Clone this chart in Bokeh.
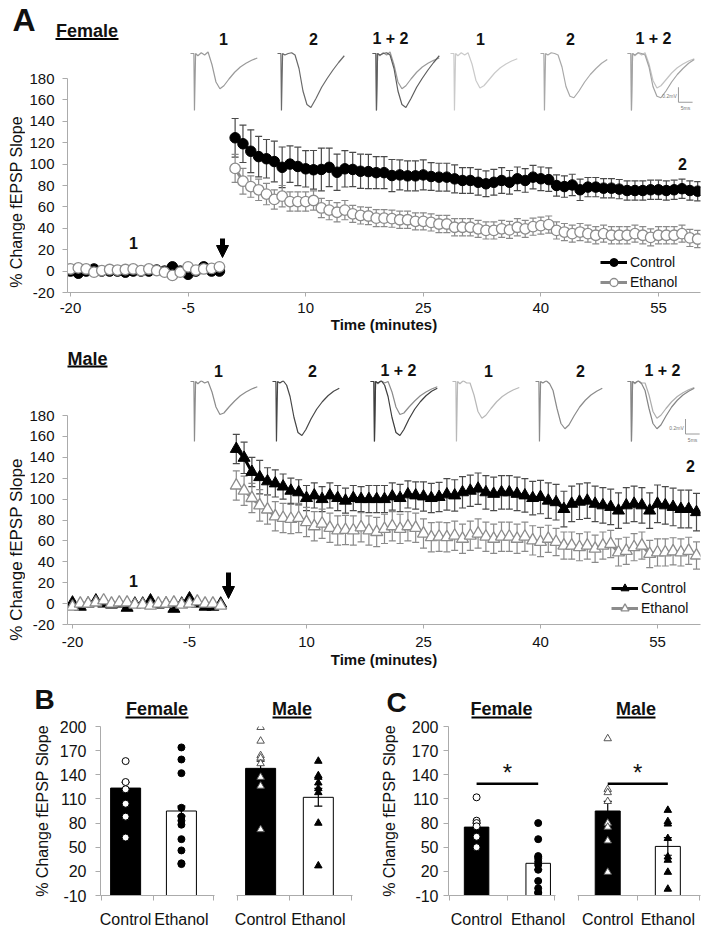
import math
from bokeh.plotting import figure
from bokeh.layouts import column, row
from bokeh.models import (Range1d, FixedTicker, Legend, LegendItem, Arrow,
                          NormalHead)
from bokeh.core.properties import value
from bokeh.embed import file_html
from bokeh.resources import INLINE

FONT = "Liberation Sans"
AXIS_GRAY = "#ababab"
TXT = "#111111"

# ---------------------------------------------------------------- data (A)
time_ticks = [-20, -5, 10, 25, 40, 55]
slope_ticks_a = [-20, 0, 20, 40, 60, 80, 100, 120, 140, 160, 180]
base_t = list(range(-20, 0))     # baseline minutes
post_t = list(range(1, 61))      # post-HFS minutes

f_ctl_base = [0, -2, 0, 2, 0, 0, 0, -1, 0, 0, 0, 1, 0, 4, 0, -3, 0, 4, 0, 0]
f_eth_base = [2, 3, 2, -1, 0.5, 1.5, 1, 1.5, 2, 0.5, 2, 0.5, -1, -4, -1, 4, 1, 2, 2.5, 4]
f_ctl_post = [124.6, 119, 112, 107, 105, 102.4, 97, 100, 97.8, 95.6,
              94.7, 95, 97, 92.4, 95.6, 95, 93.3, 93, 92, 92,
              89.3, 89.9, 89, 89, 89.9, 88.4, 87.8, 87.8, 86.2, 84.7,
              84.7, 83, 81.6, 83, 84.7, 83, 86.3, 84.7, 87.8, 86.3,
              85.5, 80, 79, 80.5, 76, 78.5, 78.5, 77.5, 77.5, 76.6,
              75.3, 75.3, 75.3, 76, 76, 75.3, 76, 77, 75.3, 74.7]
f_ctl_sem = [18, 17.5, 20, 19, 18, 19, 19, 17, 18, 17,
             18, 20, 18, 17, 17, 16, 16, 16, 15, 15,
             15, 14, 14, 14, 14, 13, 13, 13, 13, 12,
             12, 12, 12, 12, 12, 11, 11, 11, 11, 11,
             11, 10, 10, 10, 10, 9, 9, 9, 9, 9,
             9, 9, 9, 9, 9, 9, 9, 9, 9, 9]
f_eth_post = [96, 84, 79, 76, 72, 67, 70, 65, 65, 65,
              66, 59, 57, 55, 57, 53.5, 52, 51.5, 49.5, 49.5,
              49, 48, 48, 46.5, 46.5, 45.5, 44, 44, 41, 41,
              41, 39.5, 38, 38, 39.5, 38.5, 41, 39.5, 41.5, 42.5,
              43.5, 38, 36.5, 35, 36.5, 35, 33.5, 35, 33.5, 33.5,
              33.5, 35, 33.5, 31.5, 33.5, 33.5, 33.5, 35, 31, 30]
f_eth_sem = [13, 12, 10, 10, 10, 9, 10, 9, 9, 9,
             9, 9, 9, 9, 9, 8, 8, 8, 8, 8,
             8, 8, 8, 8, 8, 8, 8, 8, 8, 8,
             8, 8, 8, 8, 8, 8, 8, 8, 8, 8,
             8, 8, 8, 8, 8, 8, 8, 8, 8, 8,
             8, 8, 8, 8, 8, 8, 8, 8, 8, 8]

m_ctl_base = [1, -3, 0, 3, 0, -1, 0, -4, 0, 0, 3, -1, 0, -5, 0, 5, 0, -3, -3, 0]
m_eth_base = [-3, 0, 0, 1, 3, 0, 1, 1, -1, -1, -2, 0, 0, 1, -1, 0, 2, 0, 0, -2]
m_ctl_post = [148, 139.5, 126, 121, 117, 115, 112, 108, 106.5, 101,
              103.5, 100, 103.5, 101, 98.5, 101, 100, 100, 100, 100,
              102.5, 101, 104.5, 103.5, 102.5, 101, 102, 104.5, 103.5, 106.5,
              108, 110, 106.5, 105, 106.5, 106.5, 105, 103.5, 101, 102,
              98.5, 97, 90.5, 95.5, 97.5, 98.5, 95.5, 94, 92.5, 89,
              94, 95.5, 94, 89, 95.5, 94, 92.5, 90.5, 90.5, 87.5]
m_ctl_sem = [14, 15, 14, 16, 13, 13, 12, 12, 12, 12,
             12, 12, 12, 12, 12, 12, 12, 13, 13, 13,
             13, 13, 13, 13, 14, 14, 14, 15, 15, 15,
             15, 15, 16, 16, 16, 16, 16, 16, 16, 16,
             17, 17, 17, 17, 17, 17, 17, 17, 17, 17,
             17, 17, 17, 17, 18, 18, 18, 18, 18, 18]
m_eth_post = [113, 108, 101, 94, 90, 83.5, 82, 81, 82, 78,
              74, 76.5, 72.5, 70, 70.5, 70, 73, 70, 68.5, 71.5,
              74, 71.5, 74, 72.5, 67, 63.5, 64, 63.5, 65, 62,
              65, 67, 64, 62, 64, 64, 62, 64, 60.5, 59,
              62, 59, 55.5, 55.5, 54, 55.5, 52.5, 55.5, 57, 49,
              50.5, 54, 55.5, 47.5, 49, 49, 50, 49, 50.5, 46]
m_eth_sem = [14, 14, 14, 15, 14, 14, 14, 14, 14, 14,
             14, 14, 14, 14, 14, 14, 14, 14, 14, 14,
             14, 14, 14, 14, 14, 14, 14, 14, 14, 14,
             14, 14, 14, 14, 14, 14, 14, 14, 14, 14,
             13, 13, 13, 13, 13, 13, 13, 13, 13, 13,
             13, 13, 13, 13, 13, 13, 13, 13, 13, 13]

# fEPSP sample traces (ms, mV)
trace_ms = [0, 1.2, 1.4, 1.8, 2.6, 3.8, 5.0, 6.2, 7.6, 9.0, 10.4, 11.8,
            13.6, 15.6, 17.6, 19.6, 21.6, 23.6]
tr_f_ctl1 = [0, 0, -0.76, 0, -0.03, 0.01, -0.02, 0.02, -0.15, -0.38, -0.47, -0.43,
             -0.34, -0.25, -0.18, -0.13, -0.09, -0.06]
tr_f_ctl2 = [0, 0, -0.76, 0, -0.02, 0.0, 0.01, -0.02, -0.2, -0.5, -0.68, -0.72,
             -0.6, -0.45, -0.33, -0.22, -0.12, -0.03]
tr_f_eth1 = [0, 0, -0.76, 0, -0.03, 0.01, -0.02, 0.01, -0.14, -0.36, -0.46, -0.43,
             -0.35, -0.26, -0.19, -0.14, -0.1, -0.07]
tr_f_eth2 = [0, 0, -0.76, 0, -0.02, 0.01, 0, -0.02, -0.18, -0.44, -0.57, -0.59,
             -0.5, -0.38, -0.28, -0.2, -0.13, -0.08]
tr_m_ctl1 = [0, 0, -0.8, 0, -0.03, 0.01, -0.02, 0.0, -0.14, -0.34, -0.44, -0.42,
             -0.34, -0.26, -0.19, -0.14, -0.1, -0.07]
tr_m_ctl2 = [0, 0, -0.8, 0, -0.02, 0.01, -0.05, -0.2, -0.48, -0.68, -0.72, -0.64,
             -0.5, -0.37, -0.27, -0.19, -0.13, -0.09]
tr_m_eth1 = [0, 0, -0.8, 0, -0.03, 0.01, -0.02, -0.02, -0.18, -0.4, -0.49, -0.45,
             -0.36, -0.27, -0.2, -0.15, -0.11, -0.08]
tr_m_eth2 = [0, 0, -0.8, 0, -0.02, 0.01, -0.03, -0.12, -0.36, -0.56, -0.63, -0.58,
             -0.46, -0.34, -0.25, -0.18, -0.13, -0.09]
trace_labels = ["1", "2", "1 + 2", "1", "2", "1 + 2"]
scale_mv = 0.2
scale_ms = 5

# ---------------------------------------------------------------- data (B, C)
groups = ["Control", "Ethanol"]
slope_ticks_bc = [-10, 20, 50, 80, 110, 140, 170, 200]

b_f_mean = [123.5, 95]
b_f_sem = [7, 6]
b_f_ctl_pts = [157, 131, 122, 104, 88, 62]
b_f_eth_pts = [174, 159, 142, 99, 88, 83, 78, 60, 46, 30, 29]
b_m_mean = [148, 112]
b_m_sem = [9, 11]
b_m_ctl_pts = [199, 182, 164, 161, 154, 137, 126, 72]
b_m_eth_pts = [157, 139, 137, 130, 123, 118, 80, 27]

c_f_mean = [75, 30]
c_f_sem = [5, 8]
c_f_ctl_pts = [112, 83, 80, 76, 63, 50]
c_f_eth_pts = [80, 60, 39, 36, 32, 28, 22, 8, -1, -6, -7]
c_m_mean = [95, 51]
c_m_sem = [12, 11]
c_m_ctl_pts = [185, 122, 118, 107, 80, 75, 58, 19]
c_m_eth_pts = [96, 82, 79, 61, 38, 34, 19, -2]
sig_y = 129

# ---------------------------------------------------------------- helpers
W = 702
YW = 25                  # width of the band holding the rotated y title
TPX, TPY = 2.83, 75.0    # trace inset scale: px per ms, px per mV
YLABEL = "% Change fEPSP Slope"


def style_axis(ax, size):
    ax.axis_line_color = AXIS_GRAY
    ax.major_tick_line_color = AXIS_GRAY
    ax.minor_tick_line_color = None
    ax.major_tick_in = 0
    ax.major_label_text_font = FONT
    ax.major_label_text_font_size = size
    ax.major_label_text_color = TXT
    ax.axis_label_text_font = FONT
    ax.axis_label_text_color = TXT


def bare(width, height, flip=True):
    p = figure(width=width, height=height, x_range=Range1d(0, width),
               y_range=Range1d(height, 0) if flip else Range1d(0, height),
               output_backend="svg", toolbar_location=None,
               x_axis_location=None, y_axis_location=None,
               min_border_left=0, min_border_right=0, min_border_top=0,
               min_border_bottom=0, frame_align=False)
    p.outline_line_color = None
    p.xgrid.visible = False
    p.ygrid.visible = False
    return p


def strip(height, texts, underlines):
    """Text-only band (titles, panel letters, trace labels) in pixel units."""
    p = bare(W, height)
    for text, x, y, size in texts:
        p.text(x=[x], y=[y], text=[text], text_font=value(FONT),
               text_font_size=size, text_font_style="bold",
               text_align="center", text_baseline="middle",
               text_color=TXT)
    for x0, x1, y0, y1 in underlines:
        p.quad(left=[x0], right=[x1], top=[y0], bottom=[y1],
               fill_color="black", line_color=None)
    return p


def time_panel(H, FB, y180, ppu, ppx, x0, ctl_base, ctl_post, ctl_sem,
               eth_base, eth_post, eth_sem, marker, msize, traces,
               trace_lefts, tr_zero, scale_pos, legend_loc, plot_texts,
               arrow_px, ylab_xy, ylab_size, xl_standoff, xl_lab_standoff):
    FL, FR, FT = 67, 700, 0          # frame edges in page pixels
    FW, FH = FR - FL, FB - FT
    xr = Range1d(x0, x0 + FW / ppx)
    yr = Range1d(-20, 180 + (y180 - FT) / ppu)
    p = figure(width=W - YW, height=H, x_range=xr, y_range=yr,
               output_backend="svg", toolbar_location=None,
               min_border_left=FL - YW, min_border_right=W - FR,
               min_border_top=FT, min_border_bottom=H - FB,
               frame_align=False)
    p.outline_line_color = None
    p.xgrid.visible = False
    p.ygrid.visible = False

    def dx(px):
        return xr.start + (px - FL) / FW * (xr.end - xr.start)

    def dy(py):
        return yr.end - (py - FT) / FH * (yr.end - yr.start)

    style_axis(p.xaxis[0], "15px")
    style_axis(p.yaxis[0], "15px")
    p.xaxis.ticker = FixedTicker(ticks=time_ticks)
    p.xaxis.major_label_overrides = {-20: "-20", -5: "-5"}
    p.yaxis.ticker = FixedTicker(ticks=slope_ticks_a)
    p.yaxis.major_label_overrides = {-20: "-20"}
    p.yaxis.bounds = (-20, 180)
    p.xaxis.major_tick_out = 4
    p.yaxis.major_tick_out = 5
    p.xaxis.major_label_standoff = xl_standoff
    p.yaxis.major_label_standoff = 8
    p.xaxis.axis_label = "Time (minutes)"
    p.xaxis.axis_label_text_font_style = "bold"
    p.xaxis.axis_label_text_font_size = "15px"
    p.xaxis.axis_label_standoff = xl_lab_standoff

    # error bars
    CTL_ERR, ETH_ERR = "#4a4a4a", "#8a8a8a"
    for mean, sem, col in ((ctl_post, ctl_sem, CTL_ERR), (eth_post, eth_sem, ETH_ERR)):
        lo = [m - s for m, s in zip(mean, sem)]
        hi = [m + s for m, s in zip(mean, sem)]
        p.segment(post_t, lo, post_t, hi, line_color=col, line_width=1.2)
        p.scatter(post_t, hi, marker="dash", size=7, line_color=col, line_width=1.2)
        p.scatter(post_t, lo, marker="dash", size=7, line_color=col, line_width=1.2)

    # control series
    p.line(base_t, ctl_base, line_color="black", line_width=3)
    cl = p.line(post_t, ctl_post, line_color="black", line_width=3)
    p.scatter(base_t, ctl_base, marker=marker, size=msize,
              fill_color="black", line_color="black")
    cs = p.scatter(post_t, ctl_post, marker=marker, size=msize,
                   fill_color="black", line_color="black")
    # ethanol series
    ECOL = "#8c8c8c"
    p.line(base_t, eth_base, line_color=ECOL, line_width=3)
    el = p.line(post_t, eth_post, line_color=ECOL, line_width=3)
    p.scatter(base_t, eth_base, marker=marker, size=msize,
              fill_color="white", line_color=ECOL, line_width=1.3)
    es = p.scatter(post_t, eth_post, marker=marker, size=msize,
                   fill_color="white", line_color=ECOL, line_width=1.3)

    leg = Legend(items=[LegendItem(label="Control", renderers=[cl, cs]),
                        LegendItem(label="Ethanol", renderers=[el, es])],
                 location=legend_loc, orientation="vertical", padding=0,
                 margin=0, spacing=0, glyph_width=27, glyph_height=20,
                 label_height=20, label_standoff=3, label_text_font=FONT,
                 label_text_font_size="14px", label_text_color=TXT,
                 border_line_color=None, background_fill_alpha=0)
    p.add_layout(leg)

    # trace insets
    y_end = (tr_zero - FT) / TPY
    p.extra_y_ranges = {"tr": Range1d(y_end - FH / TPY, y_end)}
    xrs = {}
    for k, left in enumerate(trace_lefts):
        s = -(left - FL) / TPX
        xrs[f"i{k}"] = Range1d(s, s + FW / TPX)
    p.extra_x_ranges = xrs
    for k, lines in enumerate(traces):
        for vals, col in lines:
            p.line(trace_ms, vals, line_color=col, line_width=1.2,
                   x_range_name=f"i{k}", y_range_name="tr")
    sx, sy = scale_pos
    last = f"i{len(trace_lefts) - 1}"
    p.line([sx, sx, sx + scale_ms], [sy + scale_mv, sy, sy], line_color="#9a9a9a",
           line_width=1, x_range_name=last, y_range_name="tr")
    p.text(x=[sx - 0.6], y=[sy + 0.08], text=[f"{scale_mv}mV"], x_range_name=last,
           y_range_name="tr", text_font=value(FONT), text_font_size="5px",
           text_align="right", text_baseline="middle", text_color="#777777")
    p.text(x=[sx + scale_ms / 2], y=[sy - 0.08], text=[f"{scale_ms}ms"],
           x_range_name=last, y_range_name="tr", text_font=value(FONT),
           text_font_size="5px", text_align="center", text_baseline="middle",
           text_color="#777777")

    # arrow marking HFS
    ax_px, ay0, ay1 = arrow_px
    p.add_layout(Arrow(end=NormalHead(size=12, fill_color="black",
                                      line_color="black"),
                       x_start=dx(ax_px), y_start=dy(ay0), x_end=dx(ax_px),
                       y_end=dy(ay1), line_width=5, line_color="black"))

    for text, px, py in plot_texts:
        p.text(x=[dx(px)], y=[dy(py)], text=[text], text_font=value(FONT),
               text_font_size="16px", text_font_style="bold",
               text_align="center", text_baseline="middle", text_color=TXT)

    # rotated y title in its own narrow band at the left
    lf = bare(YW, H, flip=False)
    lx, ly = ylab_xy
    lf.text(x=[lx], y=[H - ly], text=[YLABEL], angle=math.pi / 2,
            text_font=value(FONT), text_font_size=ylab_size,
            text_align="center", text_baseline="middle", text_color=TXT)
    return row(lf, p, spacing=0)


# ---- Panel A, female
sf = strip(48,
           [("A", 23.5, 19.5, "32px"), ("Female", 86.5, 30.5, "18px"),
            ("1", 223, 38, "16px"), ("2", 313, 38, "16px"),
            ("1 + 2", 390, 38, "16px"), ("1", 480, 38, "16px"),
            ("2", 570, 38, "16px"), ("1 + 2", 653, 38, "16px")],
           [(55, 118, 37.5, 39.5)])
pf = time_panel(
    H=290, FB=244, y180=30, ppu=1.07, ppx=7.84, x0=-20.38,
    ctl_base=f_ctl_base, ctl_post=f_ctl_post, ctl_sem=f_ctl_sem,
    eth_base=f_eth_base, eth_post=f_eth_post, eth_sem=f_eth_sem,
    marker="circle", msize=10.5,
    traces=[[(tr_f_ctl1, "#9a9a9a")], [(tr_f_ctl2, "#6a6a6a")],
            [(tr_f_ctl1, "#9a9a9a"), (tr_f_ctl2, "#5e5e5e")],
            [(tr_f_eth1, "#cacaca")], [(tr_f_eth2, "#a8a8a8")],
            [(tr_f_eth1, "#c2c2c2"), (tr_f_eth2, "#a2a2a2")]],
    trace_lefts=[190, 277, 372, 450, 540, 627], tr_zero=5,
    scale_pos=(18.0, -0.65), legend_loc=(533, 0),
    plot_texts=[("1", 133, 194), ("2", 682, 115)],
    arrow_px=(222, 190, 209), ylab_xy=(15.5, 153.5), ylab_size="16px",
    xl_standoff=6, xl_lab_standoff=0)

# ---- Panel A, male
sm = strip(42,
           [("Male", 87, 20, "18px"),
            ("1", 218, 32, "16px"), ("2", 312, 32, "16px"),
            ("1 + 2", 398, 32, "16px"), ("1", 488, 32, "16px"),
            ("2", 580, 32, "16px"), ("1 + 2", 662, 32, "16px")],
           [(67, 107, 27, 29)])
pm = time_panel(
    H=292, FB=244, y180=35, ppu=1.045, ppx=7.8, x0=-20.64,
    ctl_base=m_ctl_base, ctl_post=m_ctl_post, ctl_sem=m_ctl_sem,
    eth_base=m_eth_base, eth_post=m_eth_post, eth_sem=m_eth_sem,
    marker="triangle", msize=12,
    traces=[[(tr_m_ctl1, "#8c8c8c")], [(tr_m_ctl2, "#474747")],
            [(tr_m_ctl1, "#8c8c8c"), (tr_m_ctl2, "#3e3e3e")],
            [(tr_m_eth1, "#b8b8b8")], [(tr_m_eth2, "#8a8a8a")],
            [(tr_m_eth1, "#adadad"), (tr_m_eth2, "#858585")]],
    trace_lefts=[190, 272, 370, 452, 535, 627], tr_zero=1,
    scale_pos=(20.5, -0.7), legend_loc=(544, 6),
    plot_texts=[("1", 133, 200), ("2", 690, 85)],
    arrow_px=(228, 192, 218), ylab_xy=(16, 169), ylab_size="17px",
    xl_standoff=8, xl_lab_standoff=1)

# ---------------------------------------------------------------- B and C
RH, RT, RB = 211, 7, 182


def bar_panel(width, FL, FR, xr0, ppu, means, sems, ctl_pts, eth_pts, marker,
              msize, ctl_line, show_y, tick_standoff, ylab_standoff, bar_px,
              sig=False):
    FW = FR - FL
    xr = Range1d(xr0, xr0 + FW / ppu)
    yr = Range1d(-10, 200)
    p = figure(width=width, height=RH, x_range=xr, y_range=yr,
               output_backend="svg", toolbar_location=None,
               min_border_left=FL, min_border_right=width - FR,
               min_border_top=RT, min_border_bottom=RH - RB,
               y_axis_location="left" if show_y else None,
               frame_align=False)
    p.outline_line_color = None
    p.xgrid.visible = False
    p.ygrid.visible = False

    xs = [1, 2]
    style_axis(p.xaxis[0], "16px")
    p.xaxis.ticker = FixedTicker(ticks=xs, minor_ticks=[xr.start + 0.01, 1.5,
                                                          xr.end - 0.01])
    p.xaxis.major_label_overrides = {1: groups[0], 2: groups[1]}
    p.xaxis.major_tick_line_color = None
    p.xaxis.major_tick_out = 0
    p.xaxis.minor_tick_line_color = AXIS_GRAY
    p.xaxis.minor_tick_out = 5
    p.xaxis.minor_tick_in = 0
    p.xaxis.major_label_standoff = 10
    if show_y:
        style_axis(p.yaxis[0], "16px")
        p.yaxis.ticker = FixedTicker(ticks=slope_ticks_bc)
        p.yaxis.major_label_overrides = {-10: "-10"}
        p.yaxis.major_tick_out = 5
        p.yaxis.major_label_standoff = tick_standoff
        p.yaxis.axis_label = YLABEL
        p.yaxis.axis_label_text_font_size = "16px"
        p.yaxis.axis_label_text_font_style = "normal"
        p.yaxis.axis_label_standoff = ylab_standoff

    p.vbar(x=xs, top=means, bottom=-10, width=bar_px / ppu,
           fill_color=["black", "white"], line_color="black", line_width=1)
    lo = [m - s for m, s in zip(means, sems)]
    hi = [m + s for m, s in zip(means, sems)]
    p.segment(xs, lo, xs, hi, line_color="black", line_width=1.2)
    p.scatter(xs, hi, marker="dash", size=8, line_color="black", line_width=1.2)
    p.scatter(xs, lo, marker="dash", size=8, line_color="black", line_width=1.2)

    p.scatter([1] * len(ctl_pts), ctl_pts, marker=marker, size=msize,
              fill_color="white", line_color=ctl_line, line_width=1)
    p.scatter([2] * len(eth_pts), eth_pts, marker=marker, size=msize,
              fill_color="black", line_color="black", line_width=1)

    if sig:
        p.line(xs, [sig_y, sig_y], line_color="black", line_width=2.5)
        p.text(x=[1.5], y=[sig_y + 14], text=["*"], text_font=value(FONT),
               text_font_size="24px", text_align="center",
               text_baseline="middle", text_color=TXT)
    return p


sbc = strip(47,
            [("B", 44, 27, "28px"), ("Female", 156.5, 36, "18px"),
             ("Male", 291.5, 36, "18px"), ("C", 396, 30, "28px"),
             ("Female", 501, 36, "18px"), ("Male", 635.5, 36, "18px")],
            [(125, 188, 44, 46), (272, 311, 44, 46),
             (471, 531, 44, 46), (616, 655, 44, 46)])
bf = bar_panel(225, 100, 214, 0.55, 55.8, b_f_mean, b_f_sem, b_f_ctl_pts,
               b_f_eth_pts, "circle", 7, "black", True, 9, 6, 30)
bm = bar_panel(130, 11, 127, 0.582, 57.7, b_m_mean, b_m_sem, b_m_ctl_pts,
               b_m_eth_pts, "triangle", 7.5, "#555555", False, 0, 0, 30)
cf = bar_panel(210, 93, 200, 0.544, 61.6, c_f_mean, c_f_sem, c_f_ctl_pts,
               c_f_eth_pts, "circle", 7, "black", True, 5, 11, 24.5, sig=True)
cm = bar_panel(137, 12, 135, 0.497, 60.1, c_m_mean, c_m_sem, c_m_ctl_pts,
               c_m_eth_pts, "triangle", 7.5, "#555555", False, 0, 0, 25, sig=True)

layout = column(sf, pf, sm, pm, sbc, row(bf, bm, cf, cm, spacing=0), spacing=0)
open("out.html", "w").write(file_html(layout, INLINE))
